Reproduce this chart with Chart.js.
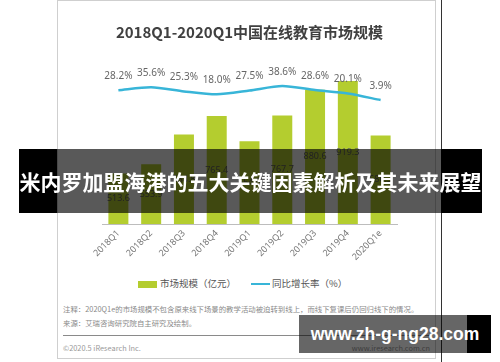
<!DOCTYPE html>
<html>
<head>
<meta charset="utf-8">
<script src="https://cdn.jsdelivr.net/npm/chart.js@4"></script>
<style>
  body { margin: 0; background: #fff; font-family: "Noto Sans", "Noto Sans CJK SC", sans-serif; }
  #wrap { position: relative; width: 500px; height: 362px; overflow: hidden; background: #fff; }
  #frame { position: absolute; left: 57px; top: 0; width: 377px; height: 357px; border: 1px solid #cfcfcf; }
  #vline { position: absolute; left: 441px; top: 0; width: 1px; height: 362px; background: #333; }
  #chartBox { position: absolute; left: 57px; top: 0; width: 378px; height: 270px; }
  .leg { position: absolute; top: 276px; font-size: 9.5px; color: #555; line-height: 14px; font-family: "Noto Sans CJK SC", sans-serif; }
  .note { position: absolute; left: 63px; font-size: 7.4px; color: #8a8a8a; font-family: "Noto Sans CJK SC", sans-serif; white-space: nowrap; }
  #sep { position: absolute; left: 63px; top: 335px; width: 367px; height: 1px; background: #8a8a8a; }
  #banner { position: absolute; left: 19px; top: 149px; width: 463px; height: 64px;
    background: linear-gradient(to right, #000 0, #000 38px, rgba(0,0,0,0.65) 38px, rgba(0,0,0,0.65) 422px, #000 422px);
    color: #fff; font: bold 21px "Noto Sans CJK SC", sans-serif; line-height: 64px; text-align: center; white-space: nowrap; }
  #wm { position: absolute; left: 299px; top: 315px; width: 192px; height: 38px;
    background: linear-gradient(to right, rgba(0,0,0,0.6) 0, rgba(0,0,0,0.6) 168px, #000 168px);
    color: #fff; font: bold 17.5px "Liberation Sans", sans-serif; line-height: 38px; text-align: center; white-space: nowrap; }
</style>
</head>
<body>
<div id="wrap">
  <div id="frame"></div>
  <div id="vline"></div>
  <div id="chartBox"><canvas id="myChart"></canvas></div>

  <div class="leg" style="left:138px;"><span style="display:inline-block;width:19px;height:7px;background:#b4cd2f;vertical-align:middle;margin-right:3px;"></span>市场规模（亿元）</div>
  <div class="leg" style="left:251px;"><span style="display:inline-block;width:19px;height:2px;background:#38b5d8;vertical-align:middle;margin-right:2px;"></span>同比增长率（%）</div>

  <div class="note" style="top:303px;">注释：2020Q1e的市场规模不包含原来线下场景的教学活动被迫转到线上，而线下复课后仍回归线下的情况。</div>
  <div class="note" style="top:317px;">来源：艾瑞咨询研究院自主研究及绘制。</div>
  <div id="sep"></div>
  <div class="note" style="top:342px;color:#999;">©2020.5 iResearch Inc.</div>
  <div class="note" style="top:342px;left:auto;right:70px;color:#999;">www.iresearch.com.cn</div>

  <div id="banner">米内罗加盟海港的五大关键因素解析及其未来展望</div>
  <div id="wm">www.zh-g-ng28.com</div>
</div>

<script>
const quarters = ['2018Q1', '2018Q2', '2018Q3', '2018Q4', '2019Q1', '2019Q2', '2019Q3', '2019Q4', '2020Q1e']
const marketSize = [513.6, 553.9, 684.8, 765.4, 654.8, 767.7, 880.6, 919.3, 680.3]
const growthRate = [28.2, 35.6, 25.3, 18.0, 27.5, 38.6, 28.6, 20.1, 3.9]

// labels: bar values in the middle of the visible bar, rates above the line
const valueLabels = {
    id: 'valueLabels',
    afterDatasetsDraw(chart) {
        const ctx = chart.ctx;
        const bottom = chart.chartArea.bottom;
        ctx.save();
        ctx.textAlign = 'center';
        ctx.textBaseline = 'middle';
        chart.data.datasets.forEach((ds, i) => {
            const meta = chart.getDatasetMeta(i);
            meta.data.forEach((el, j) => {
                if (ds.type === 'bar') {
                    ctx.font = '9px "Noto Sans", sans-serif';
                    ctx.fillStyle = '#606060';
                    ctx.fillText(ds.data[j].toFixed(1), el.x, (el.y + Math.min(el.base, bottom)) / 2);
                } else {
                    ctx.font = '10px "Noto Sans", sans-serif';
                    ctx.fillStyle = '#666';
                    ctx.fillText(ds.data[j].toFixed(1) + '%', el.x, el.y - 14);
                }
            });
        });
        ctx.restore();
    }
};

const ctx = document.getElementById('myChart');
const myChart = new Chart(ctx, {
    data: {
        labels: quarters,
        datasets: [{
            type: 'line',
            label: '同比增长率（%）',
            data: growthRate,
            yAxisID: 'y2',
            borderColor: '#38b5d8',
            borderWidth: 2.5,
            pointRadius: 0,
            tension: 0.25,
            order: 0
        }, {
            type: 'bar',
            label: '市场规模（亿元）',
            data: marketSize,
            yAxisID: 'y',
            backgroundColor: '#b4cd2f',
            barPercentage: 0.61,
            categoryPercentage: 1,
            order: 1
        }]
    },
    options: {
        responsive: true,
        maintainAspectRatio: false,
        animation: false,
        layout: { padding: { left: 45, right: 38, top: 0, bottom: 6 } },
        plugins: {
            legend: { display: false },
            tooltip: { enabled: false },
            title: {
                display: true,
                text: '2018Q1-2020Q1中国在线教育市场规模',
                color: '#404040',
                font: { size: 15, weight: 'bold', family: '"Noto Sans CJK SC", sans-serif' },
                padding: { top: 23, bottom: 29 }
            }
        },
        scales: {
            x: {
                grid: { display: false, drawTicks: false },
                border: { display: true, color: '#bdbdbd' },
                ticks: {
                    minRotation: 45, maxRotation: 45, padding: 4,
                    color: '#777',
                    font: { size: 9, family: '"Noto Sans", sans-serif' }
                },
                afterFit: (scale) => { scale.height = 40; }
            },
            y: { display: false, min: 292, max: 967 },
            y2: { display: false, position: 'right', min: -303.7, max: 78.4 }
        }
    },
    plugins: [valueLabels]
});
</script>
</body>
</html>
